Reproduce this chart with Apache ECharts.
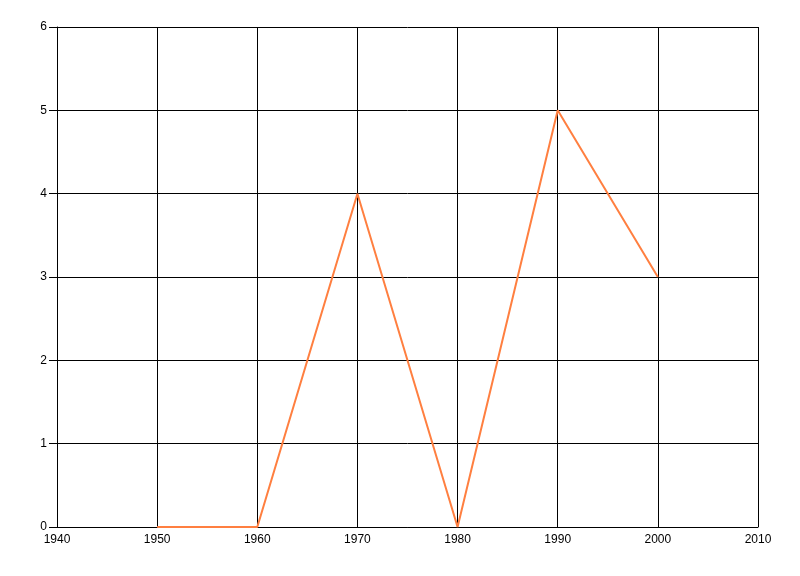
<!DOCTYPE html>
<html><head><meta charset="utf-8">
<script src="https://cdn.jsdelivr.net/npm/echarts@6/dist/echarts.min.js"></script>
<style>html,body{margin:0;padding:0;background:#fff}#c{width:800px;height:576px}</style>
</head><body><div id="c"></div>
<script>
var years = [1950, 1960, 1970, 1980, 1990, 2000];
var values = [0, 0, 4, 0, 5, 3];
var chart = echarts.init(document.getElementById('c'), null, {renderer: 'canvas'});
var font = '"Liberation Sans", Arial, sans-serif';
chart.setOption({
  animation: false,
  backgroundColor: '#fff',
  grid: {left: 57, right: 42, top: 27, bottom: 49, containLabel: false},
  xAxis: {
    type: 'value', min: 1940, max: 2010, interval: 10,
    axisLine: {show: true, lineStyle: {color: '#000', width: 1}},
    axisTick: {show: false},
    axisLabel: {color: '#000', fontSize: 12, fontFamily: font, margin: 7,
      formatter: function (v) { return String(v); }},
    splitLine: {show: true, lineStyle: {color: '#000', width: 1}}
  },
  yAxis: {
    type: 'value', min: 0, max: 6, interval: 1,
    axisLine: {show: true, lineStyle: {color: '#000', width: 1}},
    axisTick: {show: true, length: 8, lineStyle: {color: '#000'}},
    axisLabel: {color: '#000', fontSize: 12, fontFamily: font, margin: 10},
    splitLine: {show: true, lineStyle: {color: '#000', width: 1}}
  },
  series: [{
    type: 'line',
    data: years.map(function (y, i) { return [y, values[i]]; }),
    showSymbol: false,
    symbol: 'none',
    lineStyle: {color: '#ff7f40', width: 2},
    itemStyle: {color: '#ff7f40'}
  }]
});
</script></body></html>
